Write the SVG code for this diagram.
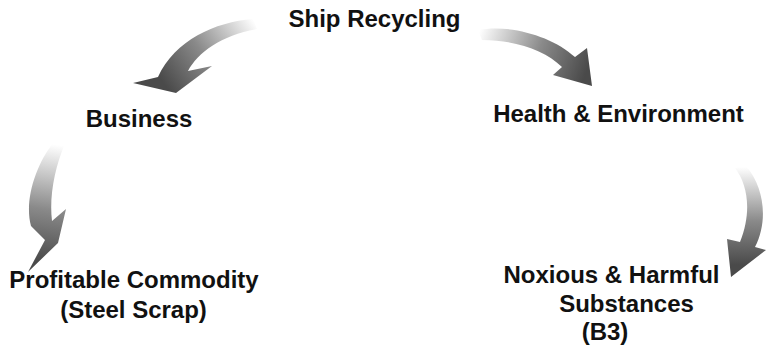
<svg xmlns="http://www.w3.org/2000/svg" width="766" height="354" viewBox="0 0 766 354">
<style>
.t{font-family:"Liberation Sans",Arial,sans-serif;font-weight:bold;font-size:24px;fill:#111;text-anchor:middle}
</style>
<defs>
<linearGradient id="g1" gradientUnits="userSpaceOnUse" x1="255" y1="22" x2="165" y2="85"><stop offset="0" stop-color="#fff"/><stop offset="0.55" stop-color="#8a8a8a"/><stop offset="1" stop-color="#4a4a4a"/></linearGradient>
<linearGradient id="g2" gradientUnits="userSpaceOnUse" x1="478" y1="35" x2="585" y2="75"><stop offset="0" stop-color="#fff"/><stop offset="0.55" stop-color="#8a8a8a"/><stop offset="1" stop-color="#4a4a4a"/></linearGradient>
<linearGradient id="g3" gradientUnits="userSpaceOnUse" x1="58" y1="145" x2="40" y2="262"><stop offset="0" stop-color="#fff"/><stop offset="0.55" stop-color="#8a8a8a"/><stop offset="1" stop-color="#4a4a4a"/></linearGradient>
<linearGradient id="g4" gradientUnits="userSpaceOnUse" x1="742" y1="167" x2="742" y2="265"><stop offset="0" stop-color="#fff"/><stop offset="0.55" stop-color="#8a8a8a"/><stop offset="1" stop-color="#4a4a4a"/></linearGradient>
</defs>
<g id="connectors">
<path d="M253,19 C215,22 175,40 158,77 L133,83 L176,93 L212,66 L188,71 C198,52 222,35 257,29 Z" fill="url(#g1)"/>
<path d="M478,30 C510,24 552,36 575,57 L587,48 L592,86 L553,75 L562,67 C545,50 515,40 482,40 Z" fill="url(#g2)"/>
<path d="M53,143 C36,165 24,200 31,226 L45,240 L28,272 L58,243 L66,209 L52,221 C49,196 55,168 64,146 Z" fill="url(#g3)"/>
<path d="M735,168 C748,185 752,212 740,242 L727,239 L731,277 L766,250 L755,247 C768,222 765,188 746,166 Z" fill="url(#g4)"/>
</g>
<g id="ship-recycling"><text class="t" x="374.5" y="27">Ship Recycling</text></g>
<g id="business"><text class="t" x="139" y="127">Business</text></g>
<g id="health-environment"><text class="t" x="618.5" y="122">Health &amp; Environment</text></g>
<g id="profitable-commodity"><text class="t" x="134" y="288">Profitable Commodity</text><text class="t" x="133.5" y="318">(Steel Scrap)</text></g>
<g id="noxious-harmful"><text class="t" x="611.5" y="283">Noxious &amp; Harmful</text><text class="t" x="626.5" y="312">Substances</text><text class="t" x="605" y="340">(B3)</text></g>
</svg>
